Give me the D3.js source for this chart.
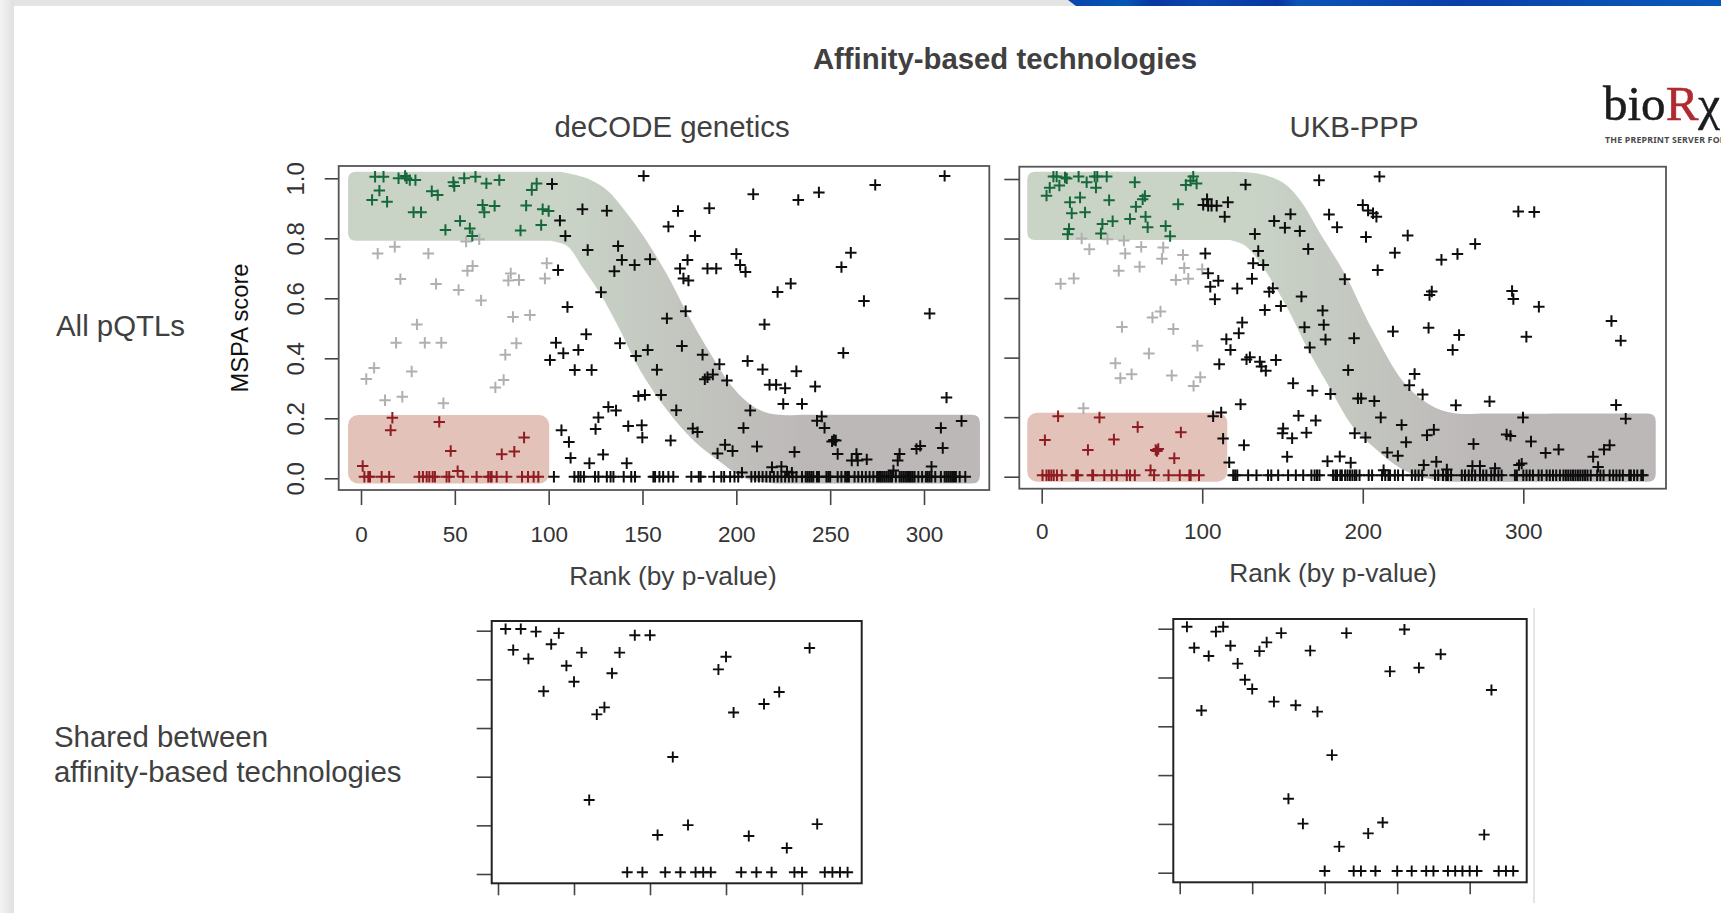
<!DOCTYPE html>
<html><head><meta charset="utf-8">
<script src="https://cdn.jsdelivr.net/npm/d3@7/dist/d3.min.js"></script>
<style>html,body{margin:0;padding:0;background:#fff;overflow:hidden}svg{display:block}text{font-family:"Liberation Sans",Arial,sans-serif}</style>
</head><body><svg id="c" width="1721" height="913"></svg>
<script>
// ---------- labels ----------
const mainTitle = "Affinity-based technologies";
const panelTitles = ["deCODE genetics", "UKB-PPP"];
const rowLabels = ["All pQTLs"];
const sharedLabel = ["Shared between", "affinity-based technologies"];
const xAxisLabel = "Rank (by p-value)";
const yAxisLabel = "MSPA score";
const yTicks = [0, 0.2, 0.4, 0.6, 0.8, 1.0];
const xTicksA = [0, 50, 100, 150, 200, 250, 300];
const xTicksB = [0, 100, 200, 300];
const xTicksShared = [0, 10, 20, 30, 40];
const baselineScore = 0.005;

// ---------- deCODE: [rank, score] ----------
const aGreen = [[5.9,.928],[9.8,.959],[13.9,.922],[7.5,1.005],[12,1.005],[20,1],[23.5,1.008],[24.3,1],[26,.994],[29,.994],[28,.887],[32,.887],[37.7,.957],[40.9,.944],[49.2,.987],[49.7,.974],[55,1],[61,1.005],[66.8,.983],[73.7,.994],[93.6,.983],[91,.961],[64.8,.911],[65.7,.887],[71.2,.908],[88,.909],[96.8,.897],[100,.891],[52.8,.858],[45,.828],[58,.833],[59.3,.808],[85,.826],[96,.844]];
const aGrey = [[8.9,.749],[18,.772],[21,.664],[35.9,.749],[40,.648],[56,.789],[63,.797],[59.5,.708],[56.7,.692],[52,.628],[64,.593],[79.8,.683],[78.5,.659],[84.2,.661],[99,.717],[98,.666],[81,.538],[90,.544],[29.8,.513],[18.7,.452],[34,.452],[42.8,.452],[82.8,.45],[76.9,.412],[7,.368],[2.8,.331],[27,.356],[76,.328],[71.6,.303],[12.8,.26],[22,.272],[43.9,.25]];
const aRed = [[16.7,.202],[15.8,.16],[41.7,.188],[47.8,.091],[86.9,.136],[81.7,.089],[75,.08],[.9,.041],[51.5,.024]];
const aRedZero = [1.8,3.9,4.8,11,15,31,33,35,36.4,38.2,39.4,45.6,47,54.5,61.6,67.8,69,69.6,72.3,77.6,85.8,89,92,94.5];
const aBlack = [[101.8,.981],[106,.859],[108.9,.808],[118,.897],[131,.892],[120.8,.761],[137,.774],[139,.728],[135,.69],[145.8,.711],[154,.73],[127.9,.62],[105,.694],[110,.571],[120,.48],[103.9,.452],[100.7,.394],[107.8,.417],[115.8,.428],[113.9,.361],[122.9,.361],[138,.45],[146.5,.408],[152.8,.428],[157.7,.362],[147.8,.274],[151.3,.278],[159.9,.278],[131.8,.238],[135.9,.226],[126.5,.203],[125,.164],[106.8,.16],[110.8,.121],[111.7,.068],[121.7,.05],[129,.079],[141.6,.05],[142.4,.174],[149.6,.177],[149.9,.136],[165,.126],[150.6,1.008],[163.8,.839],[168.9,.891],[178,.808],[185.6,.9],[174,.728],[170,.699],[171.8,.666],[174.5,.659],[184.6,.699],[189.3,.699],[163,.533],[173,.557],[171,.441],[182,.412],[191,.38],[183.2,.33],[184.6,.337],[187.5,.346],[195,.326],[168,.227],[176.8,.166],[179.3,.154],[194,.112],[190,.083],[198,.091],[203.8,.168],[207.4,.226],[211,.106],[206,.391],[214,.363],[217.7,.312],[221.2,.312],[226,.3],[242,.306],[232,.357],[225,.248],[235,.248],[200,.748],[202,.711],[204.9,.688],[222,.621],[229,.649],[215,.513],[209,.947],[233,.928],[244,.953],[274,.978],[311,1.008],[256,.704],[261,.752],[268,.591],[257,.418],[303,.549],[312,.269],[320,.191],[309,.168],[310,.101],[304,.039],[298,.108],[296,.098],[287,.081],[286,.059],[283.7,.026],[269.5,.063],[264,.081],[264.7,.059],[261.5,.059],[254,.081],[251,.123],[252,.128],[253,.126],[247,.168],[243,.192],[245.5,.206],[231,.088],[219,.037],[224,.039],[227,.022],[229.6,.019],[203,.019]];
const aBlackZero = [102.8,113.7,115.8,117,118.8,124.7,126.5,131,133,134.5,140,144,146,155.8,156.7,159,161,163.8,166.4,176,180,181,188,192,193.5,196.7,199,201,208,210,212,214,216,218,220,222,224,226,228,230,232,235,237,238,239,240,241,243,244,248,249,250,254,256,258,259,260,263,265,267,269,271,273,275,276,277,278,279,280,281,282,283,285,287,288,289,290,291,292,293,294,295,297,299,301,302,303,304,306,309,311,312,313,314,315,316,317,319,322];

// ---------- UKB-PPP: [rank, score] ----------
const bGreen = [[3,.944],[5,.971],[7.3,1.008],[9.3,1.008],[11,.978],[14.5,1.005],[15.6,1.002],[23,1.008],[28,.989],[33,1.008],[34.6,1.008],[33.8,.971],[40.5,1.008],[58,.989],[94.4,1.008],[96.5,.985],[89.8,.98],[92.7,.994],[17.6,.922],[23.9,.938],[18.7,.885],[27,.888],[42,.929],[64.3,.943],[62.9,.932],[58.7,.907],[85,.915],[55,.866],[64.7,.873],[66,.838],[44.2,.858],[37.8,.849],[36.9,.817],[17,.832],[16.2,.814],[77.2,.842],[80,.808]];
const bGrey = [[24.9,.8],[29.7,.764],[41,.798],[51.2,.793],[52,.75],[62,.772],[75.7,.77],[74.9,.732],[88,.745],[48,.692],[61,.705],[88.8,.701],[100,.697],[91.3,.665],[83.6,.661],[11.8,.648],[20,.666],[74,.555],[69,.535],[50,.503],[82,.496],[97,.44],[66.8,.414],[45.9,.381],[49,.331],[56,.344],[81,.34],[98.8,.334],[94.6,.305],[26,.23]];
const bRed = [[10.2,.203],[36,.199],[59.8,.167],[2,.123],[45,.125],[28.8,.09],[86.7,.149],[71,.09],[72.6,.093],[71.8,.086],[82.6,.062],[67.8,.022]];
const bRedZero = [.5,3,4.5,6,7.5,9.5,12.5,21.5,22.5,31.5,32,39,43.6,46.7,53,55,58,70,79,86,92,92.8,98];
const bBlack = [[127,.981],[172.8,.996],[103,.932],[100.6,.913],[103.7,.91],[105.8,.91],[109,.91],[116,.922],[114,.873],[144.8,.859],[155,.882],[151.5,.836],[160.8,.825],[132.8,.815],[134.9,.758],[131.7,.717],[138,.711],[166,.765],[179,.881],[184,.838],[188.8,.663],[101.9,.75],[103.7,.683],[110,.658],[105,.638],[107.9,.596],[121.8,.632],[131,.665],[144,.633],[141.7,.621],[161.8,.605],[149,.573],[139,.56],[175,.558],[163.7,.502],[175.7,.51],[176.8,.461],[167,.434],[194.6,.465],[124.9,.518],[122.8,.482],[115,.462],[117.6,.426],[110.6,.378],[129.7,.401],[127.6,.394],[135.9,.386],[136.9,.37],[139.6,.356],[145.9,.392],[190.9,.358],[156.6,.314],[168.7,.289],[179.9,.278],[123.9,.243],[111.8,.216],[106.8,.203],[113,.128],[126,.106],[116.8,.048],[160,.205],[170.7,.189],[150.4,.162],[150,.146],[156,.129],[164.9,.148],[195,.146],[152.9,.067],[178,.052],[185.7,.068],[192.5,.047],[197,.263],[210.4,1.008],[200,.913],[203.3,.894],[206.4,.885],[208.5,.873],[202,.805],[228,.81],[220,.752],[209.3,.694],[199,.263],[207.2,.254],[218.8,.488],[241,.5],[243,.622],[241.6,.61],[249,.729],[259,.748],[270,.782],[296.9,.891],[306.8,.889],[293,.624],[293.8,.597],[309.7,.571],[301.9,.47],[260,.476],[256,.426],[354.9,.523],[360.7,.457],[232.3,.345],[229,.307],[237.3,.276],[258,.24],[279,.253],[357.8,.241],[363.8,.195],[299.8,.199],[211.2,.199],[224.2,.174],[227,.116],[201.7,.132],[215.3,.081],[221.9,.07],[244.3,.158],[240,.139],[289.6,.142],[292,.137],[269,.11],[304.8,.118],[313.9,.08],[322,.091],[343.5,.067],[350.3,.091],[353.8,.106],[297.3,.039],[299,.044],[238,.039],[245.8,.05],[268.3,.036],[273,.036],[282.4,.028],[213,.022],[346.6,.033],[252.4,.024]];
const bBlackZero = [119.3,120.5,121.8,128.6,133.8,141,143,147.3,153.5,158.3,162.9,168,170,171.5,173,181.5,183,184,186,187,189,190.5,192,193.5,195,196,198,203.7,205.8,212,214,216,217,220,222,225,230.6,232.7,234.8,237,245,247,250,252,253,255,261.7,263.7,266,268,270,273,275,277,280,282,284.5,286.5,294.8,296,300,302,304,306,309.5,311.5,314.5,316.5,318.5,320.5,322.8,325,326.5,328,329.5,331,332.5,334,335.5,337,338.5,340,342,346,348,350,353.8,356,358,360,362,366,367,369,371,373.5,374.5];

// ---------- Shared panels: score per rank 1..46 ----------
const sharedA = [1.007,.921,1.007,.885,.996,.751,.944,.99,.856,.79,.91,.304,.656,.685,.825,.91,.007,.981,.007,.981,.16,.007,.481,.007,.201,.007,.007,.007,.841,.893,.664,.007,.156,.007,.699,.007,.748,.107,.007,.007,.929,.205,.007,.007,.007,.007];
const sharedB = [1.008,.922,.665,.888,.988,1.008,.93,.857,.791,.753,.908,.944,.701,.982,.303,.686,.201,.91,.66,.007,.482,.107,.982,.007,.007,.161,.007,.206,.825,.007,.997,.007,.84,.007,.007,.895,.007,.007,.007,.007,.007,.156,.749,.007,.007,.007];

// ---------- highlight bands in data units ----------
const aBandUpper = [[106,1.022],[120.4,1.0],[131,.961],[139.6,.9],[150.2,.81],[163,.68],[173.7,.551],[186,.418],[198,.304],[208.8,.24],[219.5,.214],[240,.212],[321.8,.212]];
const aBandLower = [[219.5,-.017],[204.6,0],[191.3,.055],[176.9,.128],[163,.228],[148.6,.361],[138,.494],[127.3,.617],[118.3,.7],[109.7,.775],[100.7,.792]];
const bBandUpper = [[117.3,1.024],[135.9,1.017],[150.4,.987],[160.8,.93],[173.3,.819],[188.9,.681],[205.7,.497],[226.3,.312],[241.8,.242],[256.1,.214],[280,.212],[374.5,.212]];
const bBandLower = [[252.4,-.017],[235.6,0],[223,.03],[208.8,.09],[194,.167],[177.7,.315],[165,.436],[152.7,.57],[137,.71],[127,.775],[117.3,.795]];

const svg = d3.select("#c");
const defs = svg.append("defs");
defs.append("filter").attr("id","soft").attr("x","-5%").attr("y","-5%").attr("width","110%").attr("height","110%")
  .append("feGaussianBlur").attr("stdDeviation",0.45);

// ---------- page furniture ----------
const leftG = defs.append("linearGradient").attr("id","leftG");
leftG.append("stop").attr("offset",0).attr("stop-color","#f3f3f3");
leftG.append("stop").attr("offset",1).attr("stop-color","#e0e0e0");
const blueG = defs.append("linearGradient").attr("id","blueG").attr("gradientUnits","userSpaceOnUse")
  .attr("x1",1060).attr("x2",1721).attr("y1",0).attr("y2",0);
[["0","#0a43ad"],[".1","#0756b3"],[".14","#0837a0"],[".22","#0a47ad"],[".33","#0836a0"],[".36","#0b55b5"],[".6","#0a3fa8"],[".8","#0a4fb0"],["1","#0a58b8"]]
  .forEach(([o,c])=>blueG.append("stop").attr("offset",o).attr("stop-color",c));
svg.append("rect").attr("width",1721).attr("height",6).attr("fill","#e4e4e4");
svg.append("path").attr("d","M1068,0H1721V6H1076Z").attr("fill","url(#blueG)");
svg.append("rect").attr("width",14).attr("height",913).attr("fill","url(#leftG)");

// ---------- logo ----------
const logo = svg.append("g");
const logoText = logo.append("text").attr("x",1603).attr("y",120).attr("font-size",49).style("font-family","'Liberation Serif',serif").attr("fill","#1c1c1c").attr("stroke","#1c1c1c").attr("stroke-width",.5);
logoText.append("tspan").text("bio");
logoText.append("tspan").text("R").attr("fill","#b02a30").attr("stroke","#b02a30");
logoText.append("tspan").text("χ");
logo.append("text").attr("x",1605).attr("y",143).attr("font-size",8.8).attr("font-weight","bold").attr("letter-spacing",.2).attr("fill","#4a4a4a").style("font-family","'Noto Sans',sans-serif").text("THE PREPRINT SERVER FOR");

// ---------- text ----------
const textCol = "#404040";
const put = (x,y,s,size,anchor="middle",weight="normal",fill=textCol)=>svg.append("text").attr("x",x).attr("y",y).attr("font-size",size).attr("text-anchor",anchor).attr("font-weight",weight).attr("fill",fill).text(s);
put(1005,69,mainTitle,29.3,"middle","bold");
put(672,137,panelTitles[0],29.4);
put(1354,137,panelTitles[1],29.4);
put(56,336,rowLabels[0],29.4,"start");
put(54,747,sharedLabel[0],29.4,"start");
put(54,782,sharedLabel[1],29.4,"start");
put(673,585,xAxisLabel,26.3);
put(1333,582,xAxisLabel,26.3);
svg.append("text").attr("transform","translate(248,328) rotate(-90)").attr("font-size",23.8).attr("text-anchor","middle").attr("fill","#111").text(yAxisLabel);

// ---------- plotting helpers ----------
const plusPath = (px,py,h)=>{const p=d3.path();p.moveTo(px-h,py);p.lineTo(px+h,py);p.moveTo(px,py-h);p.lineTo(px,py+h);return p.toString();};
const R = 8;
function drawMarks(g,pts,x,y,col,h=5.7,w=2){
  g.append("g").selectAll("path").data(pts).join("path")
    .attr("d",d=>plusPath(x(d[0]),y(d[1]),h)).attr("fill","none").attr("stroke",col).attr("stroke-width",w);
}
function axes(cfg){
  const gx=svg.append("g").attr("transform",`translate(0,${cfg.frame.b})`)
    .call(d3.axisBottom(cfg.x).tickValues(cfg.xt).tickSize(cfg.tx).tickPadding(cfg.px||18).tickFormat(cfg.lab?d3.format("d"):""));
  const gy=svg.append("g").attr("transform",`translate(${cfg.frame.l},0)`)
    .call(d3.axisLeft(cfg.y).tickValues(yTicks).tickSize(cfg.ty).tickPadding(0).tickFormat(cfg.yl?d3.format(".1f"):""));
  [gx,gy].forEach(g=>{g.select(".domain").remove();g.selectAll("line").attr("stroke","#444").attr("stroke-width",1.6);
    g.selectAll("text").attr("font-size",22.5).attr("fill","#333").style("font-family",'"Liberation Sans",Arial,sans-serif');});
  if(cfg.yl) gy.selectAll(".tick text").attr("font-size",24).attr("text-anchor","middle").attr("dy",0).attr("x",0).attr("y",0).attr("transform","translate(-35,0) rotate(-90)");
  svg.append("rect").attr("x",cfg.frame.l).attr("y",cfg.frame.t).attr("width",cfg.frame.r-cfg.frame.l).attr("height",cfg.frame.b-cfg.frame.t)
    .attr("fill","none").attr("stroke",cfg.fc||"#555").attr("stroke-width",cfg.fw||1.8);
}
function bandPath(x,y,l,t,r,b,upper,lower,leftBottom){
  const xl=x(l),yt=y(t),xr=x(r),yb=y(b),ylb=y(leftBottom);
  const curve=d3.line().x(d=>x(d[0])).y(d=>y(d[1])).curve(d3.curveCatmullRom.alpha(.5));
  const up=curve(upper),lo=curve(lower);
  const yf=y(upper[upper.length-1][1]);
  return `M${xl},${yt+R}Q${xl},${yt} ${xl+R},${yt}L${x(upper[0][0])},${y(upper[0][1])}${up.replace(/^M[^CL]*/,"")}`
   +`L${xr-R},${yf}Q${xr},${yf} ${xr},${yf+R}L${xr},${yb-R}Q${xr},${yb} ${xr-R},${yb}`
   +`L${x(lower[0][0])},${y(lower[0][1])}${lo.replace(/^M[^CL]*/,"")}`
   +`L${xl+R},${ylb}Q${xl},${ylb} ${xl},${ylb-R}Z`;
}
function panel(cfg){
  const {x,y}=cfg;
  const g=svg.append("g").attr("filter","url(#soft)");
  const id="band"+cfg.id;
  const grad=defs.append("linearGradient").attr("id",id).attr("gradientUnits","userSpaceOnUse")
    .attr("x1",x(cfg.gradFrom)).attr("x2",x(cfg.gradTo)).attr("y1",0).attr("y2",0);
  grad.append("stop").attr("offset",0).attr("stop-color","#c9d4c7");
  grad.append("stop").attr("offset",1).attr("stop-color","#bdb8b8");
  g.append("path").attr("d",bandPath(x,y,cfg.l,cfg.t,cfg.r,cfg.b,cfg.upper,cfg.lower,cfg.lb)).attr("fill",`url(#${id})`);
  const rx=x(cfg.l),rw=x(cfg.redR)-rx,ry=y(cfg.redT);
  g.append("rect").attr("x",rx).attr("y",ry).attr("width",rw).attr("height",y(cfg.b)-ry).attr("rx",10).attr("fill","#e3c3b9");
  axes(cfg);
  const toZero=a=>a.map(r=>[r,baselineScore]);
  drawMarks(g,cfg.grey,x,y,"#b0b0b0");
  drawMarks(g,cfg.black,x,y,"#0d0d0d");
  drawMarks(g,toZero(cfg.blackZero),x,y,"#0d0d0d");
  drawMarks(g,cfg.green,x,y,"#15683a");
  drawMarks(g,cfg.red,x,y,"#8f1d22");
  drawMarks(g,toZero(cfg.redZero),x,y,"#8f1d22");
}

panel({id:"A",x:d3.scaleLinear().domain([0,300]).range([361,924]),y:d3.scaleLinear().domain([0,1]).range([478.3,178.3]),
  frame:{l:338.7,r:989.3,t:166,b:490},xt:xTicksA,tx:15,ty:14,px:21,lab:true,yl:true,
  l:-6.9,t:1.022,r:329.8,b:-.017,lb:.792,redR:100.3,redT:.211,gradFrom:106,gradTo:235,
  upper:aBandUpper,lower:aBandLower,green:aGreen,grey:aGrey,red:aRed,redZero:aRedZero,black:aBlack,blackZero:aBlackZero});

panel({id:"B",x:d3.scaleLinear().domain([0,300]).range([1041.7,1523.3]),y:d3.scaleLinear().domain([0,1]).range([476.7,179]),
  frame:{l:1019.3,r:1666,t:166.7,b:488.7},xt:xTicksB,tx:15,ty:15,px:19,lab:true,yl:false,
  l:-9,t:1.024,r:382.5,b:-.017,lb:.795,redR:115.6,redT:.215,gradFrom:130,gradTo:270,
  upper:bBandUpper,lower:bBandLower,green:bGreen,grey:bGrey,red:bRed,redZero:bRedZero,black:bBlack,blackZero:bBlackZero});

function sharedPanel(vals,frame,x,y){
  axes({x,y,frame,xt:xTicksShared,tx:12,ty:15,lab:false,yl:false,fc:"#222",fw:2});
  const g=svg.append("g").attr("filter","url(#soft)");
  drawMarks(g,vals.map((v,i)=>[i+1,v]),x,y,"#0d0d0d",5.5,1.9);
}
sharedPanel(sharedA,{l:491.7,r:861.7,t:621,b:883.3},d3.scaleLinear().domain([0,40]).range([498,802]),d3.scaleLinear().domain([0,1]).range([874,630.7]));
sharedPanel(sharedB,{l:1173.3,r:1526.7,t:619,b:882.3},d3.scaleLinear().domain([0,40]).range([1179.7,1469.7]),d3.scaleLinear().domain([0,1]).range([872.7,628.7]));
svg.append("line").attr("x1",1534).attr("x2",1534).attr("y1",608).attr("y2",903).attr("stroke","#d4d4d4").attr("stroke-width",1.2);
</script></body></html>
